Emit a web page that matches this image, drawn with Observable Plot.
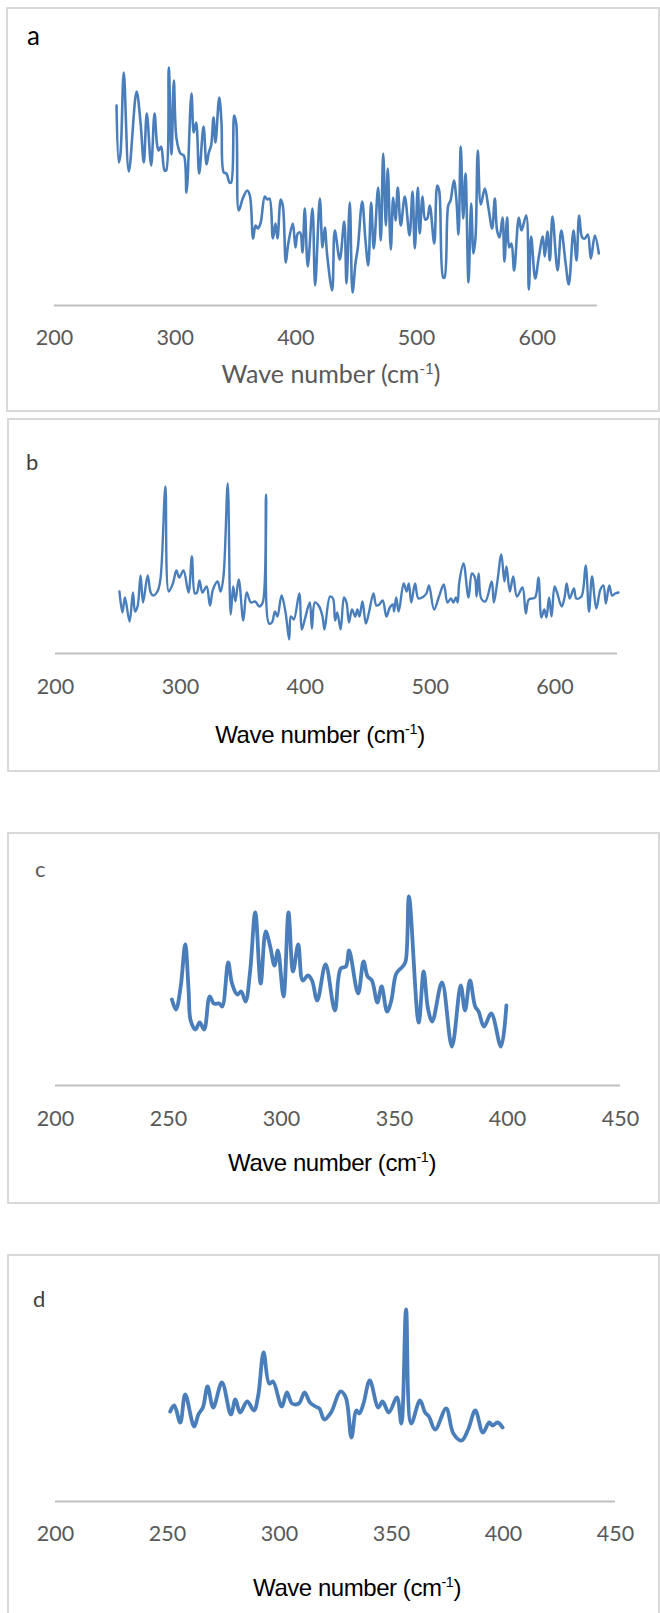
<!DOCTYPE html>
<html>
<head>
<meta charset="utf-8">
<script src="https://cdn.jsdelivr.net/npm/d3@7"></script>
<script src="https://cdn.jsdelivr.net/npm/@observablehq/plot@0.6"></script>
<style>
  html, body { margin: 0; padding: 0; background: #fff; }
  body { position: relative; width: 660px; height: 1613px; overflow: hidden; }
  .box { position: absolute; border: 2px solid #d9d9d9; box-sizing: border-box; pointer-events: none; }
  .holder { position: absolute; left: 0; }
  .letter { position: absolute; font-family: Lato, sans-serif; line-height: 1; }
  .title { position: absolute; line-height: 1; white-space: nowrap; transform: translateX(-50%); }
  .title sup { font-size: 0.6em; vertical-align: 0.6em; line-height: 0; }
</style>
</head>
<body>
<script>
// ---------- data (wave number in cm-1, relative Raman intensity in a.u.) ----------
const xTicksA = [200, 300, 400, 500, 600];
const xTicksC = [200, 250, 300, 350, 400, 450];

const aWave = [251.4,253.3,254.7,257.4,261.6,268,271.3,274,276.5,280.1,282.9,285.1,286.4,288.4,291.2,292.5,294.7,297,298.9,301.1,304.4,307.2,309.4,313.5,315.4,317.4,319.9,323.5,326,327.9,329.8,331.8,333.4,336.5,338.4,340.3,342.5,345,346.4,348.9,350.6,352.7,356,359.7,361.9,364.6,366.6,368.5,370.7,374.3,376.3,378.2,381,383.1,384.8,387.5,389.2,391.7,393.6,397.5,399.7,401.6,403.6,405.5,407.4,409.9,413.8,416,419.9,422.1,424,426,430.1,432.3,436.4,440.1,442,444.7,447,449.4,451.4,455,457.7,460,462.4,464.6,468.2,470.4,472.4,474.6,476.2,478.7,480.7,482.6,484.5,487,490.3,494.2,496.7,498.6,501.1,502.7,505,507.2,508.9,511,514.7,517.2,518.8,522.1,523.2,526.3,528.2,531,533.1,534.8,536.7,538.7,540.6,543.1,545.3,547.2,548.9,550.8,553.3,556.6,559.7,562.7,564.9,566.8,568.8,571.3,572.9,575.1,576.8,578.7,580.9,584.8,587,590.9,593.1,595,598.4,601.3,604.7,606.3,608.6,610.5,612.7,616.9,620,623.5,626.2,630.1,632.6,634.8,637.3,639.5,642,644.5,647.8,651.1];
const aIntensity = [200,143,152,233,134,214,183,143,192,140,192,160,155,159,135,135,238,151,225,167,152,150,113,212,173,183,132,179,141,153,160,188,163,208,183,133,132,123,123,190,182,95,107,115,110,67,80,77,82,109,106,107,67,82,67,106,100,43,61,82,58,72,73,53,97,39,97,20,107,58,78,50,15,75,46,84,22,103,13,42,58,104,65,40,103,57,118,65,152,80,137,56,108,85,118,80,109,70,114,57,118,72,109,86,87,100,62,120,115,28,28,100,105,125,105,71,159,87,132,23,102,52,68,155,101,117,97,77,107,75,68,88,44,88,58,62,35,88,75,90,16,69,27,48,69,49,74,45,89,35,75,43,21,75,45,90,68,67,71,47,70,52];

const bWave = [251.2,253.6,255.6,259.3,262,263.7,265.7,268.1,270.1,273.8,276.2,278.2,281.6,284,288,290.7,294,296.8,299.1,302.5,306.5,309.2,311.6,313.3,315.3,317.7,321,323.7,326.1,329.8,332.2,334.5,337.9,340.3,342.3,344,346.7,350.4,353.1,356.4,359.8,363.2,365.9,368.6,370.9,373.3,375.7,377.7,381,384.1,387.1,388.5,390.8,395.2,397.2,399.6,403.6,405.3,407.7,411.1,413.8,415.4,419.8,422.2,423.9,425.6,428.3,431,433,435,437.4,440,441.7,443.4,445.8,448.5,450.8,454.6,456.9,459.3,462,465,467.7,470.1,471.1,472.8,474.8,478.8,481.2,482.9,484.9,487.9,490.6,494.7,497,499.1,503.1,507.1,510.9,513.9,516.6,518.6,520.6,522,523.3,526.7,530.7,533.4,535.8,537.2,538.8,540.9,544.2,549.3,551,553.7,557,559.4,561.1,563.8,566.5,569.5,573.9,576.6,579,584,586.7,589.1,591.4,593.1,595.2,597.2,599.6,601.6,605.3,607.6,609.3,611.7,615.1,617.1,621.1,624.5,627.2,629.6,633,636.3,638.7,640.7,643.4,645.7,648.1,650.8];
const bIntensity = [62,41,56,32,61,42,47,78,51,78,61,58,62,74,167,62,70,83,76,83,61,97,60,61,73,61,67,48,64,72,62,77,170,39,67,52,74,33,61,51,52,47,51,159,30,31,42,37,58,42,14,37,34,60,24,34,51,25,51,47,37,24,57,55,33,41,24,56,51,31,44,37,44,37,52,30,40,60,48,49,53,37,46,49,42,56,42,70,62,70,51,70,55,57,60,68,44,57,69,51,55,51,56,51,71,90,56,80,76,57,80,55,52,72,51,71,99,72,87,62,77,57,66,40,54,56,76,36,44,36,56,37,67,61,47,56,70,55,65,55,57,88,42,77,45,64,68,50,68,58,60,61];

const cWave = [251.5,253.3,255.4,257.4,258.9,259.8,261.9,263.8,265.8,268.2,270.1,272.5,273.8,276.4,278.1,280.4,282.2,284.1,286.1,288.4,290.8,293,294.9,296.9,298.4,300.9,303.1,305.1,307.4,309.4,311.7,313.5,315.8,319.5,323.6,326.2,328.5,329.9,333.9,336.3,338.1,340,342.4,344.3,346.7,348.6,350.8,353.6,354.9,356.4,360.7,362.9,364.8,366.7,371,375.4,379.3,381.2,383.4,385.7,387.2,389.6,392.8,397.1,399.5];
const cIntensity = [86,76,99,141,95,65,56,63,56,89,82,82,79,123,102,91,94,84,114,173,102,154,140,120,135,89,173,114,141,105,110,105,85,121,75,117,119,135,92,124,109,105,83,99,74,85,112,119,124,189,63,114,77,64,103,39,100,75,105,79,74,59,72,39,80];

const dWave = [251.2,253,255.7,257.9,261.9,263.8,265.8,267.9,270.4,274.3,278.3,280.3,282.4,285.6,288.6,290.5,292.9,295.4,297.1,301,303.3,305.6,308.6,311.2,313.6,316.1,317.8,320,323,327.2,329.6,332.1,334.3,335.6,337.5,340.3,344.1,346,348.8,352.4,354.4,356.5,358.8,362.7,365,366.7,369.5,374.4,377.6,381.3,384.2,387.4,390.8,393.6,395.1,397.3,399.6];
const dIntensity = [90,96,79,107,75,87,94,115,94,119,87,102,89,100,91,106,149,118,120,95,109,98,98,109,99,95,93,82,89,110,104,64,91,88,98,121,94,100,89,104,78,192,78,101,89,85,72,93,68,61,72,91,69,79,76,79,74];

// ---------- layout ----------
const LINE = "#4a7ebb";
const AXIS = "#bfbfbf";
const TICK = "#595959";

const panels = [
  {wave: aWave, inten: aIntensity, ticks: xTicksA, dom: [200, 650], top: 0, h: 412,
   ml: 54, mr: 63, mt: 55, mb: 107, yMax: 250, sw: 2.6, pad: 24,
   box: [6, 7, 654, 405]},
  {wave: bWave, inten: bIntensity, ticks: xTicksA, dom: [200, 650], top: 418, h: 354,
   ml: 55, mr: 43, mt: 35, mb: 119, yMax: 200, sw: 2.4, pad: 25,
   box: [7, 418, 653, 354]},
  {wave: cWave, inten: cIntensity, ticks: xTicksC, dom: [200, 450], top: 832, h: 372,
   ml: 55, mr: 40, mt: 53, mb: 119, yMax: 200, sw: 3.8, pad: 25,
   box: [7, 832, 653, 372]},
  {wave: dWave, inten: dIntensity, ticks: xTicksC, dom: [200, 450], top: 1254, h: 359,
   ml: 55, mr: 45, mt: 47, mb: 112, yMax: 200, sw: 3.8, pad: 24,
   box: [7, 1254, 653, 400]}
];

for (const p of panels) {
  const rows = p.wave.map((w, i) => ({w, v: p.inten[i]}));
  const chart = Plot.plot({
    width: 660,
    height: p.h,
    marginLeft: p.ml,
    marginRight: p.mr,
    marginTop: p.mt,
    marginBottom: p.mb,
    style: {background: "transparent", overflow: "visible", fontFamily: "Lato, sans-serif"},
    x: {domain: p.dom},
    y: {domain: [0, p.yMax], axis: null},
    marks: [
      Plot.ruleY([0], {stroke: AXIS, strokeWidth: 2}),
      Plot.axisX({ticks: p.ticks, tickSize: 0, tickPadding: p.pad, label: null,
                  fontSize: 21.5, fill: TICK, tickFormat: d => String(d)}),
      Plot.line(rows, {x: "w", y: "v", stroke: LINE, strokeWidth: p.sw, curve: "catmull-rom"})
    ]
  });
  const holder = document.createElement("div");
  holder.className = "holder";
  holder.style.top = p.top + "px";
  holder.appendChild(chart);
  document.body.appendChild(holder);

  const b = document.createElement("div");
  b.className = "box";
  b.style.left = p.box[0] + "px";
  b.style.top = p.box[1] + "px";
  b.style.width = p.box[2] + "px";
  b.style.height = p.box[3] + "px";
  document.body.appendChild(b);
}

// panel letters
const letters = [
  {t: "a", x: 27, y: 22, size: 26, color: "#000"},
  {t: "b", x: 26, y: 451, size: 22, color: "#404040"},
  {t: "c", x: 35, y: 858, size: 22, color: "#595959"},
  {t: "d", x: 33, y: 1288, size: 22, color: "#404040"}
];
for (const l of letters) {
  const d = document.createElement("div");
  d.className = "letter";
  d.textContent = l.t;
  d.style.left = l.x + "px";
  d.style.top = l.y + "px";
  d.style.fontSize = l.size + "px";
  d.style.color = l.color;
  document.body.appendChild(d);
}

// axis titles
const titles = [
  {cx: 331, y: 361, font: "Lato, sans-serif", size: 25, color: "#595959", ls: 0},
  {cx: 320, y: 723, font: "'Liberation Sans', Arial, sans-serif", size: 24, color: "#000", ls: -0.35},
  {cx: 332, y: 1151, font: "'Liberation Sans', Arial, sans-serif", size: 24, color: "#000", ls: -0.45},
  {cx: 357, y: 1576, font: "'Liberation Sans', Arial, sans-serif", size: 24, color: "#000", ls: -0.45}
];
for (const t of titles) {
  const d = document.createElement("div");
  d.className = "title";
  d.innerHTML = "Wave number (cm<sup>-1</sup>)";
  d.style.left = t.cx + "px";
  d.style.top = t.y + "px";
  d.style.fontFamily = t.font;
  d.style.fontSize = t.size + "px";
  d.style.color = t.color;
  d.style.letterSpacing = t.ls + "px";
  document.body.appendChild(d);
}
</script>
</body>
</html>
